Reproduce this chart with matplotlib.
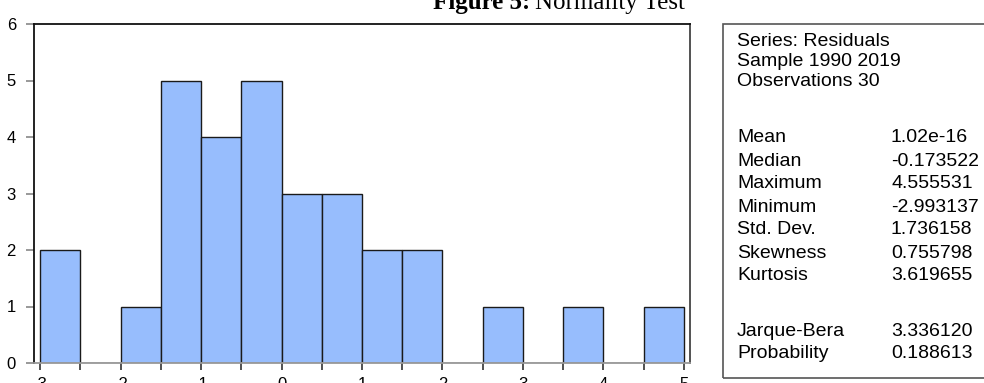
import matplotlib
matplotlib.use("Agg")
import matplotlib.pyplot as plt
from matplotlib.ticker import FixedLocator

# histogram of residuals (bin width 0.5)
bin_left = [-3.0, -2.5, -2.0, -1.5, -1.0, -0.5, 0.0, 0.5,
            1.0, 1.5, 2.0, 2.5, 3.0, 3.5, 4.0, 4.5]
counts = [2, 0, 1, 5, 4, 5, 3, 3, 2, 2, 0, 1, 0, 1, 0, 1]
x_ticks = [-3, -2, -1, 0, 1, 2, 3, 4, 5]
x_minor = [-2.5, -1.5, -0.5, 0.5, 1.5, 2.5, 3.5, 4.5]
y_ticks = [0, 1, 2, 3, 4, 5, 6]

# statistics panel
header = ["Series: Residuals", "Sample 1990 2019", "Observations 30"]
stat_names = ["Mean", "Median", "Maximum", "Minimum", "Std. Dev.",
              "Skewness", "Kurtosis"]
stat_values = ["1.02e-16", "-0.173522", "4.555531", "-2.993137",
               "1.736158", "0.755798", "3.619655"]
test_names = ["Jarque-Bera", "Probability"]
test_values = ["3.336120", "0.188613"]

W, H = 984, 383
fig = plt.figure(figsize=(W / 100, H / 100), dpi=100)
plt.rcParams['font.family'] = ['Liberation Sans', 'DejaVu Sans']
plt.rcParams['axes.unicode_minus'] = False

def fx(px):
    return px / W

def fy(py):
    return 1 - py / H

ax = fig.add_axes([fx(34), fy(363), fx(690) - fx(34), fy(24) - fy(363)])
ax.bar(bin_left, counts, width=0.5, align='edge', color='#97bdfd',
       edgecolor='#1a1a1a', linewidth=1.0)
ax.set_xlim(-3.075, 5.075)
ax.set_ylim(0, 6)
ax.xaxis.set_major_locator(FixedLocator(x_ticks))
ax.xaxis.set_minor_locator(FixedLocator(x_minor))
ax.set_yticks(y_ticks)
ax.tick_params(axis='x', which='both', direction='out', length=5,
               width=1.2, color='#333333', labelsize=12, pad=5)
ax.tick_params(axis='y', direction='out', length=6, width=1.2,
               color='#888888', labelsize=12, pad=7)
ax.spines['top'].set_color('#111111')
ax.spines['left'].set_color('#111111')
ax.spines['right'].set_color('#444444')
ax.spines['bottom'].set_color('#999999')
for s in ax.spines.values():
    s.set_linewidth(1.3)

# title, partly cut off at the top: bold "Figure 5:" then plain text
t2 = fig.text(fx(685), fy(9), "Normality Test", fontsize=18,
              family='Liberation Serif', ha='right', va='baseline')
fig.canvas.draw()
bb = t2.get_window_extent(fig.canvas.get_renderer())
fig.text(bb.x0 / W - fx(5), fy(9), "Figure 5:", fontsize=18,
         family='Liberation Serif', weight='bold', ha='right', va='baseline')

# stats box (right edge runs off the image)
box = plt.Rectangle((fx(723), fy(378)), 0.5, fy(24) - fy(378),
                    transform=fig.transFigure, fill=False,
                    edgecolor='#555555', linewidth=1.2, clip_on=False)
fig.add_artist(box)

fs = 14
label_x = fx(737)
value_x = fx(891)
header_y = [42, 62, 82]
stat_y = [138, 161, 184, 207, 230, 253, 276]
test_y = [332, 353]
for t, y in zip(header, header_y):
    fig.text(label_x, fy(y), t, fontsize=fs, va='center')
for n, v, y in zip(stat_names, stat_values, stat_y):
    fig.text(label_x, fy(y), n, fontsize=fs, va='center')
    fig.text(value_x, fy(y), v, fontsize=fs, va='center')
for n, v, y in zip(test_names, test_values, test_y):
    fig.text(label_x, fy(y), n, fontsize=fs, va='center')
    fig.text(value_x, fy(y), v, fontsize=fs, va='center')

fig.savefig("out.png", dpi=100)
